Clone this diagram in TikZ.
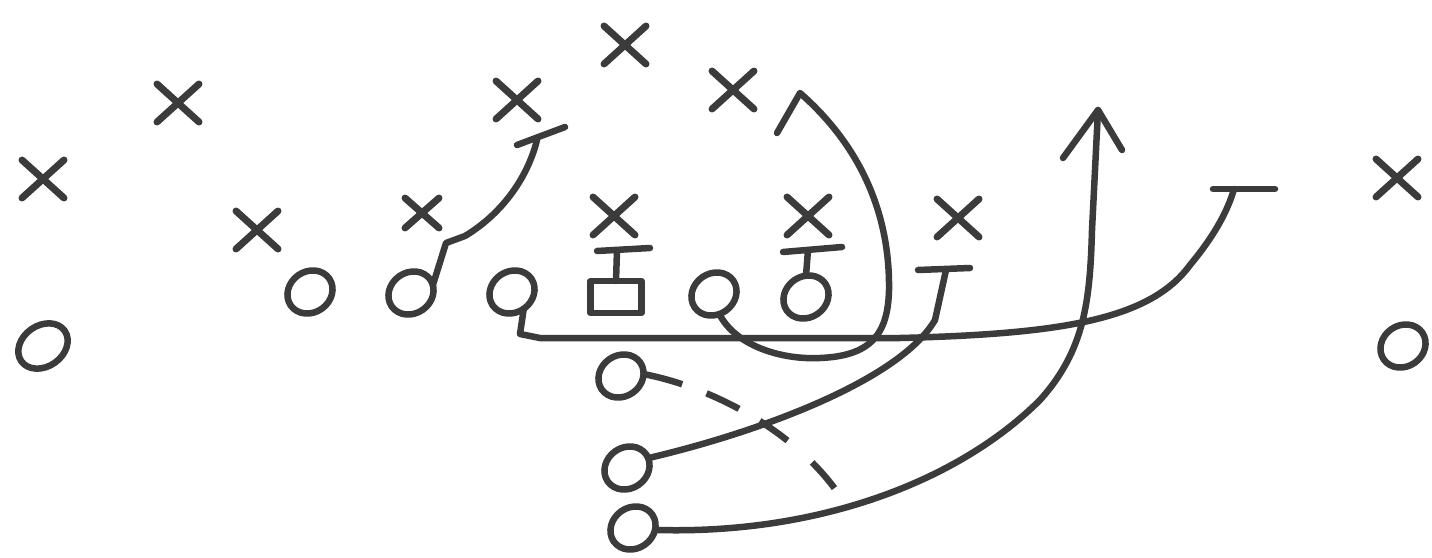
\documentclass[tikz,border=0pt]{standalone}
\usetikzlibrary{shapes.geometric,shapes.misc}
\definecolor{ink}{HTML}{3B3B3B}
\tikzset{
  pen/.style={line width=7pt, draw=ink, line cap=round, line join=round},
  xx/.style={cross out, pen, minimum width=42pt, minimum height=38pt, inner sep=0pt, outer sep=0pt},
  oo/.style={ellipse, pen, line width=6.5pt, minimum width=47pt, minimum height=41pt, inner sep=0pt, outer sep=0pt, rotate=35},
  sq/.style={rectangle, pen, line width=6.5pt, minimum width=51pt, minimum height=32pt, inner sep=0pt, outer sep=0pt},
  route/.style={pen, line width=6.5pt},
}
\begin{document}
\begin{tikzpicture}[x=1pt,y=1pt]
\useasboundingbox (0,0) rectangle (1432,-557);
% defence
\node[xx] (x1) at (43,-179) {};
\node[xx] (x2) at (178,-103) {};
\node[xx] (x3) at (517,-100) {};
\node[xx] (x4) at (625,-45) {};
\node[xx] (x5) at (733,-90) {};
\node[xx] (x6) at (257,-230) {};
\node[xx, minimum width=34pt, minimum height=30pt] (x7) at (422,-213) {};
\node[xx] (x8) at (614,-216) {};
\node[xx] (x9) at (808,-216) {};
\node[xx] (x10) at (958,-218) {};
\node[xx] (x11) at (1397,-178) {};
% offence
\node[oo, minimum width=53pt] (o1) at (43,-346) {};
\node[oo] (o2) at (310,-292) {};
\node[oo] (o3) at (411,-293) {};
\node[oo] (o4) at (512,-292) {};
\node[sq] (sq) at (616,-297) {};
\node[oo] (o5) at (714,-294) {};
\node[oo] (o6) at (806,-297) {};
\node[oo] (o7) at (621,-376) {};
\node[oo] (o8) at (627,-468) {};
\node[oo] (o9) at (633,-528) {};
\node[oo] (o10) at (1403,-346) {};
% route end points
\coordinate (b1l) at (597,-251); \coordinate (b1r) at (650,-248); \coordinate (b1) at (617,-250);
\coordinate (b2l) at (783,-252); \coordinate (b2r) at (842,-247); \coordinate (b2) at (808,-250);
\coordinate (e3) at (537,-140); \coordinate (e3l) at (517,-145); \coordinate (e3r) at (565,-127);
\coordinate (e4) at (1234,-189); \coordinate (e4l) at (1213,-189); \coordinate (e4r) at (1275,-189);
\coordinate (e5) at (800,-93); \coordinate (e5w) at (777,-133);
\coordinate (e8) at (946,-270); \coordinate (e8l) at (918,-270); \coordinate (e8r) at (970,-268);
\coordinate (e9) at (1098,-110); \coordinate (e9l) at (1063,-158); \coordinate (e9r) at (1122,-150);
\coordinate (e7) at (838,-493);
% blocks
\draw[route] (sq.north) -- (b1) (b1l) -- (b1r);
\draw[route] (o6.55) -- (b2) (b2l) -- (b2r);
% o3 route
\draw[route] (o3.-15) -- (446,-243) -- (465,-236) .. controls (500,-215) and (527,-180) .. (e3);
\draw[route] (e3l) -- (e3r);
% o4 route
\draw[route] (o4.south) -- (520,-334) -- (540,-338) -- (900,-338)
  .. controls (1060,-334) and (1150,-320) .. (1190,-265)
  .. controls (1215,-235) and (1228,-210) .. (e4);
\draw[route] (e4l) -- (e4r);
% o5 route
\draw[route] (o5.-110) .. controls (735,-345) and (780,-360) .. (820,-358)
  .. controls (870,-356) and (888,-335) .. (889,-290)
  .. controls (890,-220) and (865,-150) .. (e5) -- (e5w);
% o8 route
\draw[route] (o8.-10) .. controls (760,-432) and (900,-380) .. (935,-320) -- (e8);
\draw[route] (e8l) -- (e8r);
% o9 route
\draw[route] (o9.-40) .. controls (820,-535) and (960,-480) .. (1040,-400)
  .. controls (1085,-350) and (1090,-300) .. (1092,-230) -- (e9);
\draw[route] (e9l) -- (e9) -- (e9r);
% o7 dashed route
\draw[route, line cap=butt, dash pattern=on 40pt off 26pt on 36pt off 24pt on 34pt off 33pt on 34pt]
  (o7.-30) .. controls (715,-388) and (795,-432) .. (e7);
\end{tikzpicture}
\end{document}
